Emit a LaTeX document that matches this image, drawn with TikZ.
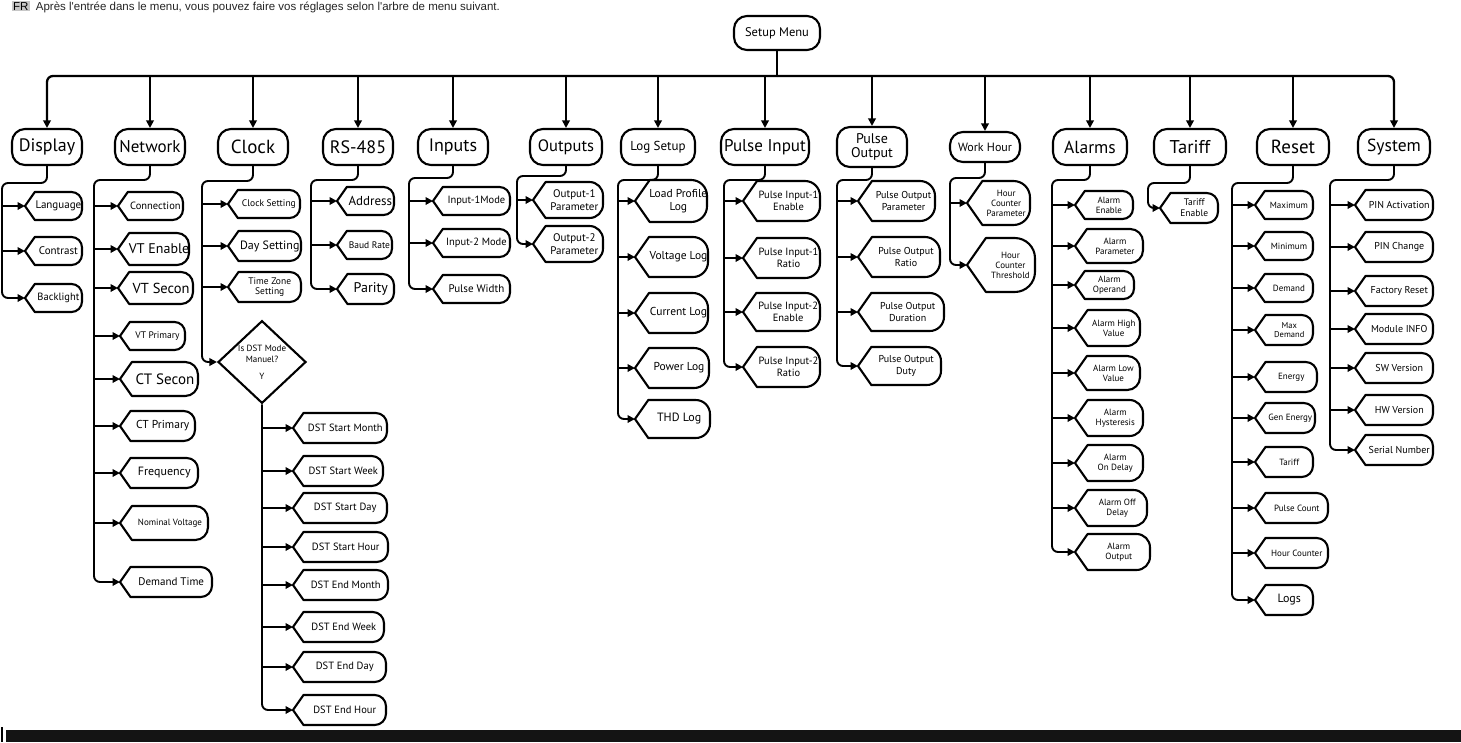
\documentclass[tikz,border=0pt]{standalone}
\usepackage{fontspec}
\setmainfont{PT Sans}
\newfontfamily\titlefont{Liberation Sans}
\usetikzlibrary{arrows.meta,shapes.geometric}
\tikzset{
  conn/.style={line width=1.9pt, rounded corners=6pt},
  arr/.style={conn, -{Triangle[length=7.5pt,width=7.5pt]}},
  shp/.style={line width=2.1pt, line join=round},
  topbox/.style={draw, line width=2.1pt, rounded corners=13pt, inner sep=0pt, align=center},
  subtxt/.style={inner sep=0pt, align=center},
}
\newcommand\mnode[7]{%
  \pgfmathsetmacro\dd{0.7*#5}%
  \pgfmathsetmacro\rr{0.75*#5}%
  \pgfmathsetmacro\cx{(#2+\dd+#3)/2}%
  \pgfmathsetmacro\bs{#6*1.12}%
  \draw[shp] (#2,-#4) -- ({#2+\dd},{-#4+#5}) -- ({#3-\rr},{-#4+#5}) arc[start angle=90,end angle=0,radius=\rr] -- (#3,{-#4-#5+\rr}) arc[start angle=0,end angle=-90,radius=\rr] -- ({#2+\dd},{-#4-#5}) -- cycle;
  \node[subtxt,font=\fontsize{#6}{\bs}\selectfont] (#1) at (\cx,-#4) {#7};
  \coordinate (#1t) at (#2,-#4);
}
\newcommand\mgroup[5]{%
  \coordinate (#1tr) at (#2,-#3);
  \draw[arr] (#1.south) |- (#1tr) |- (#5t);
  \foreach \ch in {#4}{\draw[arr] (\ch t -| #1tr) -- (\ch t);}
}
\newcommand\topnode[7]{% name, cx, cy, w, h, fs, text
  \pgfmathsetmacro\bs{#6*1.05}%
  \node[topbox, minimum width=#4pt, minimum height=#5pt, font=\fontsize{#6}{\bs}\selectfont] (#1) at (#2,-#3) {#7};
}
\begin{document}
\begin{tikzpicture}[x=1pt,y=1pt]
\useasboundingbox (0,0) rectangle (1461,-742);
\fill[white] (0,0) rectangle (1461,-742);

% title
\node[fill=black!22, inner sep=1pt, anchor=base west, font=\titlefont\fontsize{11.5}{12}\selectfont] (fr) at (12,-10) {FR};
\node[anchor=base west, inner sep=0pt, font=\titlefont\fontsize{11.5}{12}\selectfont, text=black!85] (title) at ([xshift=6pt]fr.base east) {Après l'entrée dans le menu, vous pouvez faire vos réglages selon l'arbre de menu suivant.};

% root
\topnode{setup}{777}{33}{86}{34}{12.5}{Setup Menu}

% top level
\topnode{display}{47}{147}{70}{36}{18}{Display}
\topnode{network}{150}{147}{70}{36}{17}{Network}
\topnode{clock}{253}{147}{70}{36}{19}{Clock}
\topnode{rs}{358}{147}{70}{36}{18}{RS-485}
\topnode{inputs}{453}{147}{70}{36}{18}{Inputs}
\topnode{outputs}{566}{147}{72}{36}{16.5}{Outputs}
\topnode{logsetup}{658}{147}{74}{36}{13}{Log Setup}
\topnode{pulsein}{765}{147}{88}{36}{17}{Pulse Input}
\topnode{pulseout}{872}{147}{70}{40}{14}{Pulse\\Output}
\topnode{workhour}{985}{147}{70}{30}{12}{Work Hour}
\topnode{alarms}{1090}{147}{74}{36}{17.5}{Alarms}
\topnode{tariff}{1190}{147}{72}{36}{18.5}{Tariff}
\topnode{reset}{1293}{147}{72}{36}{19}{Reset}
\topnode{system}{1394}{147}{72}{36}{17.5}{System}

% bus
\coordinate (bus) at (777,-76);
\draw[conn, line width=2.3pt] (setup.south) -- (bus);
\draw[arr, line width=2.3pt] (bus) -| (display.north);
\draw[arr, line width=2.3pt] (bus) -| (system.north);
\foreach \t in {network,clock,rs,inputs,outputs,logsetup,pulsein,pulseout,workhour,alarms,tariff,reset}
  {\draw[arr] (\t.north |- bus) -- (\t.north);}

% Display
\mnode{lang}{25}{82}{206}{14}{11}{Language}
\mnode{contr}{25}{82}{251}{14}{11}{Contrast}
\mnode{backl}{25}{82}{298}{14}{10.5}{Backlight}
\mgroup{display}{2}{183}{lang,contr}{backl}

% Network
\mnode{connx}{118}{183}{206}{14}{10.5}{Connection}
\mnode{vten}{118}{189}{249}{16}{14}{VT Enable}
\mnode{vtsec}{118}{193}{288}{16}{14.5}{VT Secon}
\mnode{vtpri}{120}{185}{336}{14}{9.5}{VT Primary}
\mnode{ctsec}{120}{198}{379}{17}{15}{CT Secon}
\mnode{ctpri}{120}{195}{426}{15}{11.5}{CT Primary}
\mnode{freq}{120}{198}{473}{15}{12}{Frequency}
\mnode{nomv}{120}{208}{523}{17}{9}{Nominal Voltage}
\mnode{demt}{120}{212}{582}{15}{11}{Demand Time}
\mgroup{network}{94}{180}{connx,vten,vtsec,vtpri,ctsec,ctpri,freq,nomv}{demt}

% Clock
\mnode{clkset}{228}{300}{204}{14}{9.5}{Clock Setting}
\mnode{dayset}{228}{301}{246}{15}{12}{Day Setting}
\mnode{tzset}{228}{301}{287}{15}{9.5}{Time Zone\\Setting}
\node[draw, diamond, line width=2.1pt, minimum width=88pt, minimum height=82pt, inner sep=0pt, align=center, font=\fontsize{9}{11}\selectfont] (dst) at (262,-362) {Is DST Mode\\Manuel?\\[6pt]Y};
\coordinate (dstt) at (dst.west);
\mgroup{clock}{202}{181}{clkset,dayset,tzset}{dst}

% DST
\mnode{dsm}{293}{387}{428}{15}{10.5}{DST Start Month}
\mnode{dsw}{293}{383}{471}{15}{10.5}{DST Start Week}
\mnode{dsd}{293}{387}{508}{15}{10.5}{DST Start Day}
\mnode{dsh}{293}{388}{547}{15}{10.5}{DST Start Hour}
\mnode{dem}{293}{388}{585}{15}{10.5}{DST End Month}
\mnode{dew}{293}{384}{627}{15}{10.5}{DST End Week}
\mnode{ded}{293}{386}{667}{15}{10.5}{DST End Day}
\mnode{deh}{293}{386}{710}{15}{10.5}{DST End Hour}
\draw[arr] (dst.south) |- (deht);
\foreach \ch in {dsm,dsw,dsd,dsh,dem,dew,ded}{\draw[arr] (\ch t -| dst.south) -- (\ch t);}

% RS-485
\mnode{addr}{337}{394}{201}{14}{13}{Address}
\mnode{baud}{337}{392}{245}{14}{9.5}{Baud Rate}
\mnode{parity}{337}{394}{289}{15}{14}{Parity}
\mgroup{rs}{311}{180}{addr,baud}{parity}

% Inputs
\mnode{inone}{433}{510}{201}{14}{10.5}{Input-1Mode}
\mnode{intwo}{433}{510}{243}{14}{10.5}{Input-2 Mode}
\mnode{pw}{433}{510}{289}{14}{11}{Pulse Width}
\mgroup{inputs}{409}{178}{inone,intwo}{pw}

% Outputs
\mnode{outone}{533}{603}{200}{18}{11}{Output-1\\Parameter}
\mnode{outtwo}{533}{603}{244}{18}{11}{Output-2\\Parameter}
\mgroup{outputs}{517}{176}{outone}{outtwo}

% Log setup
\mnode{lpl}{635}{707}{201}{21}{11.5}{Load Profile\\Log}
\mnode{vlog}{635}{708}{257}{20}{11.5}{Voltage Log}
\mnode{clog}{635}{708}{313}{20}{11.5}{Current Log}
\mnode{plog}{635}{709}{368}{20}{11.5}{Power Log}
\mnode{thd}{635}{710}{419}{19}{12}{THD Log}
\mgroup{logsetup}{618}{180}{lpl,vlog,clog,plog}{thd}

% Pulse input
\mnode{pioe}{743}{820}{201}{20}{10.5}{Pulse Input-1\\Enable}
\mnode{pior}{743}{820}{258}{20}{10.5}{Pulse Input-1\\Ratio}
\mnode{pite}{743}{820}{312}{19}{10.5}{Pulse Input-2\\Enable}
\mnode{pitr}{743}{820}{367}{20}{10.5}{Pulse Input-2\\Ratio}
\mgroup{pulsein}{724}{180}{pioe,pior,pite}{pitr}

% Pulse output
\mnode{pop}{858}{935}{201}{20}{10}{Pulse Output\\Parameter}
\mnode{por}{858}{940}{257}{20}{10}{Pulse Output\\Ratio}
\mnode{podu}{858}{944}{312}{19}{10}{Pulse Output\\Duration}
\mnode{pody}{858}{941}{366}{19}{10}{Pulse Output\\Duty}
\mgroup{pulseout}{837}{180}{pop,por,podu}{pody}

% Work hour
\mnode{hcp}{967}{1030}{203}{22}{9}{Hour\\Counter\\Parameter}
\mnode{hct}{967}{1035}{265}{27}{9}{Hour\\Counter\\Threshold}
\mgroup{workhour}{950}{178}{hcp}{hct}

% Alarms
\mnode{aen}{1075}{1133}{205}{14}{9}{Alarm\\Enable}
\mnode{apar}{1075}{1143}{246}{17}{9}{Alarm\\Parameter}
\mnode{aop}{1075}{1134}{285}{14}{9}{Alarm\\Operand}
\mnode{ahv}{1075}{1140}{328}{18}{9}{Alarm High\\Value}
\mnode{alv}{1075}{1140}{373}{17}{9}{Alarm Low\\Value}
\mnode{ahy}{1075}{1143}{418}{18}{9}{Alarm\\Hysteresis}
\mnode{aon}{1075}{1143}{463}{18}{9}{Alarm\\On Delay}
\mnode{aoff}{1075}{1147}{508}{18}{9}{Alarm Off\\Delay}
\mnode{aout}{1075}{1150}{552}{18}{9}{Alarm\\Output}
\mgroup{alarms}{1052}{180}{aen,apar,aop,ahv,alv,ahy,aon,aoff}{aout}

% Tariff
\mnode{tfe}{1160}{1218}{208}{15}{9.5}{Tariff\\Enable}
\mgroup{tariff}{1148}{183}{}{tfe}

% Reset
\mnode{rmax}{1255}{1313}{205}{14}{9}{Maximum}
\mnode{rmin}{1255}{1313}{246}{14}{9}{Minimum}
\mnode{rdem}{1255}{1313}{288}{14}{9}{Demand}
\mnode{rmd}{1255}{1313}{330}{15}{8.5}{Max\\Demand}
\mnode{ren}{1255}{1317}{377}{15}{9}{Energy}
\mnode{rgen}{1255}{1315}{418}{15}{9}{Gen Energy}
\mnode{rtar}{1255}{1313}{462}{15}{9}{Tariff}
\mnode{rpc}{1255}{1328}{508}{15}{9}{Pulse Count}
\mnode{rhc}{1255}{1328}{553}{15}{9}{Hour Counter}
\mnode{rlogs}{1255}{1313}{600}{15}{12}{Logs}
\mgroup{reset}{1232}{183}{rmax,rmin,rdem,rmd,ren,rgen,rtar,rpc,rhc}{rlogs}

% System
\mnode{pina}{1355}{1433}{205}{15}{10}{PIN Activation}
\mnode{pinc}{1355}{1433}{247}{15}{10}{PIN Change}
\mnode{frst}{1355}{1433}{291}{15}{10}{Factory Reset}
\mnode{minfo}{1355}{1433}{329}{15}{10}{Module INFO}
\mnode{swv}{1355}{1433}{368}{15}{10}{SW Version}
\mnode{hwv}{1355}{1433}{410}{15}{10}{HW Version}
\mnode{serial}{1355}{1433}{450}{15}{10}{Serial Number}
\mgroup{system}{1330}{180}{pina,pinc,frst,minfo,swv,hwv}{serial}

% bottom bar
\fill[black!92] (6,-730) rectangle (1461,-742);
\draw[line width=1.2pt] (2,-727) -- (2,-742);
\end{tikzpicture}
\end{document}
